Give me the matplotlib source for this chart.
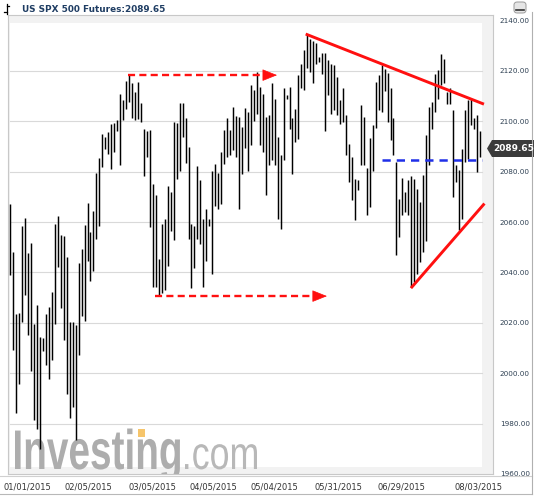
import matplotlib
matplotlib.use("Agg")
import matplotlib.pyplot as plt
from matplotlib.lines import Line2D
from matplotlib.patches import Rectangle, Polygon, PathPatch, FancyBboxPatch
from matplotlib.textpath import TextPath
from matplotlib.font_manager import FontProperties
from matplotlib.transforms import Affine2D, IdentityTransform
import numpy as np

# ---------------- data ----------------
highs = [2067.2, 2048.2, 2023.4, 2023.8, 2058.4, 2061.7, 2047.9, 2051.7, 2019.6, 2027.1,
         2014.2, 2013.9, 2023.6, 2026.4, 2032.4, 2059.1, 2062.2, 2054.7, 2054.5, 2046.3,
         2020.3, 2020.3, 2019.0, 2043.8, 2049.2, 2058.7, 2067.6, 2056.1, 2064.5,
         2079.6, 2085.4, 2095.1, 2093.8, 2095.8, 2099.1, 2099.5, 2100.4, 2111.0, 2108.3,
         2115.9, 2118.3,
         2115.0, 2111.7, 2115.7, 2107.1, 2096.8, 2096.2, 2096.6, 2074.9, 2070.9, 2045.3,
         2059.3, 2061.4, 2074.2, 2072.0, 2099.9, 2099.2, 2107.1, 2107.1, 2101.2, 2089.6,
         2059.3, 2058.4, 2082.1, 2076.8, 2061.1, 2065.0, 2061.1, 2080.1, 2083.0, 2079.5,
         2087.6, 2096.6, 2101.2, 2096.6, 2105.8, 2102.2, 2101.8, 2097.9, 2105.4, 2103.8,
         2114.3, 2112.3, 2119.6, 2113.6, 2111.0, 2101.7, 2102.4, 2115.0, 2109.0, 2093.8,
         2086.5, 2113.2, 2110.3, 2113.6, 2101.3, 2105.0, 2118.3, 2122.9, 2128.2, 2134.8,
         2132.6, 2131.8, 2130.9, 2125.6, 2126.9, 2126.9, 2124.2, 2122.9, 2122.3, 2117.6,
         2108.3, 2113.0, 2102.4, 2091.1, 2085.8, 2077.2, 2076.6, 2106.6, 2101.7,
         2081.5, 2093.4, 2098.7, 2115.6, 2118.3, 2122.3, 2120.7, 2119.0, 2113.0, 2101.1,
         2083.8, 2069.0, 2077.5, 2071.9, 2076.6, 2078.3, 2077.2, 2073.2, 2068.0, 2078.5,
         2094.7, 2105.7, 2107.7, 2118.9, 2120.3, 2126.5, 2124.9, 2111.7, 2113.0, 2104.4,
         2082.5, 2080.5, 2089.1, 2104.4, 2108.3, 2109.0, 2101.1, 2102.4, 2096.0]
lows = [2038.9, 2009.3, 1984.3, 1995.9, 2020.3, 2031.0, 2015.3, 2001.0, 1981.3, 1978.0,
        1970.0, 2008.7, 2003.4, 1997.6, 2005.4, 2019.5, 2042.2, 2025.8, 2013.3, 1991.6,
        1982.4, 1986.6, 1973.5, 2007.1, 2022.9, 2020.8, 2044.6, 2036.7, 2040.4,
        2053.4, 2058.4, 2081.9, 2089.1, 2087.2, 2080.9, 2087.8, 2096.0, 2082.5, 2100.4,
        2105.0, 2107.6,
        2101.2, 2100.5, 2100.8, 2099.6, 2078.2, 2085.8, 2058.0, 2034.1, 2034.1, 2031.2,
        2031.7, 2033.0, 2042.6, 2056.5, 2052.8, 2077.2, 2080.1, 2093.6, 2083.4, 2053.2,
        2033.8, 2041.7, 2053.2, 2051.2, 2034.1, 2044.6, 2058.4, 2039.3, 2066.3, 2065.0,
        2067.2, 2083.0, 2085.7, 2086.7, 2088.7, 2085.7, 2065.0, 2079.1, 2089.3, 2080.4,
        2090.5, 2100.0, 2103.0, 2090.5, 2087.8, 2070.6, 2082.5, 2084.5, 2082.5, 2061.3,
        2057.1, 2084.5, 2109.0, 2097.1, 2079.2, 2091.8, 2093.1, 2113.0, 2112.3, 2121.2,
        2119.6, 2115.0, 2122.9, 2123.6, 2118.9, 2096.0, 2110.3, 2103.0, 2104.4, 2102.4,
        2099.1, 2099.7, 2086.8, 2075.9, 2068.6, 2061.0, 2072.6, 2082.5, 2082.5,
        2062.6, 2066.0, 2080.3, 2097.4, 2104.4, 2103.7, 2111.9, 2099.7, 2092.5, 2086.5,
        2046.8, 2054.0, 2062.6, 2064.0, 2062.6, 2034.2, 2036.2, 2039.5, 2044.0, 2048.1,
        2052.3, 2082.5, 2097.1, 2103.7, 2109.0, 2114.3, 2115.0, 2107.0, 2107.0, 2069.9,
        2075.9, 2056.7, 2061.3, 2083.8, 2085.2, 2098.4, 2097.1, 2079.9, 2085.8]

date_labels = ["01/01/2015", "02/05/2015", "03/05/2015", "04/05/2015",
               "05/04/2015", "05/31/2015", "06/29/2015", "08/03/2015"]
date_label_pos = [5.6, 26.2, 47.7, 68.3, 88.8, 110.3, 131.6, 157.5]
y_ticks = [1960, 1980, 2000, 2020, 2040, 2060, 2080, 2100, 2120, 2140]
grid_levels = [1980, 2000, 2020, 2040, 2060, 2080, 2100, 2120]
last_price = 2089.65

# drawn annotations (index, price)
resist_dash = ([39.6, 85.5], 2118.3)
resist_tip = 89.8
support_dash = ([48.7, 102.6], 2030.6)
support_tip = 106.6
upper_trend = ([99.9, 159.0], [2134.4, 2107.0])
lower_trend = ([135.2, 159.3], [2034.2, 2066.9])
blue_level = ([125.1, 158.9], 2084.6)

# ---------------- figure ----------------
W, H = 534, 496
fig = plt.figure(figsize=(W / 100, H / 100), dpi=100)
fig.patch.set_facecolor("white")

def fx(px):
    return px / W

def fy(py):
    return 1 - py / H

ax = fig.add_axes([fx(8), fy(474), (493 - 8) / W, (474 - 15) / H])
ax.set_xlim(-0.77, 162.5)
ax.set_ylim(1960.75, 2142.17)
ax.set_facecolor("#f2f2f2")
for s in ax.spines.values():
    s.set_color("#c8c8c8")
    s.set_linewidth(0.8)

# inner white area
ax.add_patch(Rectangle((0.0041, 0.0153), 0.973, 0.967, transform=ax.transAxes,
                       facecolor="white", edgecolor="none", zorder=0))

for g in grid_levels:
    ax.axhline(g, xmin=0.004, xmax=0.977, color="#d9d9d9", lw=0.8, zorder=1)

# watermark "Investing.com" (pixel-space text paths)
def add_textpath(text, weight, x0, x1, base, capx, ref_h, color, z=1.5):
    tp = TextPath((0, 0), text, size=1, prop=FontProperties(family="Liberation Sans", weight=weight))
    ext = tp.get_extents()
    sx = (x1 - x0) / ext.width
    sy = capx / ref_h
    tr = Affine2D().translate(-ext.x0, 0).scale(sx, sy).translate(x0, H - base)
    patch = PathPatch(tr.transform_path(tp), facecolor=color, edgecolor="none",
                      transform=IdentityTransform(), zorder=z)
    ax.add_artist(patch)
    patch.set_clip_on(True)
    patch.set_clip_box(ax.bbox)

add_textpath("Investing", "bold", 15, 180, 469, 40, 0.716, "#adadad")
add_textpath(".com", "normal", 185, 257, 469, 24, 0.519, "#b8b8b8")
ax.add_patch(Rectangle((0, 0), 1, 1, transform=Affine2D().scale(7, 8).translate(138, H - 437) + IdentityTransform(),
                       facecolor="#f6c56b", edgecolor="none", zorder=1.6))

# OHLC high-low bars
idx = np.arange(len(highs))
ax.vlines(idx, lows, highs, color="black", lw=1.05, zorder=3)

# annotations
ax.plot(resist_dash[0], [resist_dash[1]] * 2, color="#ff1010", lw=1.7,
        linestyle=(0, (3.0, 1.8)), zorder=4, solid_capstyle="butt")
ax.annotate("", xy=(resist_tip, resist_dash[1]), xytext=(resist_dash[0][1], resist_dash[1]),
            arrowprops=dict(arrowstyle="-|>,head_length=0.95,head_width=0.38", color="#ff1010",
                            lw=0.5, shrinkA=0, shrinkB=0), zorder=4)
ax.plot(support_dash[0], [support_dash[1]] * 2, color="#ff1010", lw=1.7,
        linestyle=(0, (3.0, 1.8)), zorder=4)
ax.annotate("", xy=(support_tip, support_dash[1]), xytext=(support_dash[0][1], support_dash[1]),
            arrowprops=dict(arrowstyle="-|>,head_length=0.95,head_width=0.38", color="#ff1010",
                            lw=0.5, shrinkA=0, shrinkB=0), zorder=4)
ax.plot(upper_trend[0], upper_trend[1], color="#ff1010", lw=2.1, zorder=4)
ax.plot(lower_trend[0], lower_trend[1], color="#ff1010", lw=2.1, zorder=4)
ax.plot(blue_level[0], [blue_level[1]] * 2, color="#1f2fe8", lw=1.8,
        linestyle=(0, (3.3, 2.4)), zorder=4)

# axes ticks
ax.yaxis.tick_right()
ax.set_yticks(y_ticks, [f"{v:.2f}" for v in y_ticks])
ax.tick_params(axis="y", length=0, pad=5, labelsize=5.2, labelcolor="#2e4053")
ax.set_xticks(date_label_pos, date_labels)
ax.tick_params(axis="x", length=0, pad=6, labelsize=6, labelcolor="#333333")

# separators / frame bits
fig.add_artist(Line2D([0, 532 / W], [fy(476), fy(476)], color="#d0d0d0", lw=0.8))
fig.add_artist(Line2D([0, 532 / W], [fy(494), fy(494)], color="#b8b8b8", lw=0.8))
fig.add_artist(Line2D([fx(531.7), fx(531.7)], [fy(12), fy(494)], color="#b0b0b0", lw=0.8))

# title
fig.text(fx(22), fy(9), "US SPX 500 Futures:2089.65", fontsize=6.4, fontweight="bold",
         color="#1f3d63", va="center", ha="left")
fig.add_artist(Line2D([fx(6.5), fx(6.5)], [fy(4), fy(14)], color="black", lw=0.9))
fig.add_artist(Line2D([fx(6.5), fx(9)], [fy(6), fy(6)], color="black", lw=0.9))
fig.add_artist(Line2D([fx(4), fx(6.5)], [fy(12), fy(12)], color="black", lw=0.9))

# minimize button
fig.add_artist(FancyBboxPatch((fx(514), fy(13)), 12 / W, 11 / H, boxstyle="round,pad=0,rounding_size=0.006",
                              transform=fig.transFigure, facecolor="#e6e6e6", edgecolor="#9a9a9a", lw=0.7))
fig.add_artist(Line2D([fx(516), fx(524)], [fy(10), fy(10)], color="#333333", lw=1.2))

# last price marker
fig.add_artist(Polygon([(fx(487), fy(148.5)), (fx(492), fy(140)), (fx(536), fy(140)),
                        (fx(536), fy(157)), (fx(492), fy(157))], closed=True,
                       transform=fig.transFigure, facecolor="#3b3b3b", edgecolor="none"))
fig.text(fx(493), fy(148.8), f"{last_price:.2f}", fontsize=6.5, fontweight="bold",
         color="white", va="center", ha="left")

fig.savefig("out.png", dpi=100)
